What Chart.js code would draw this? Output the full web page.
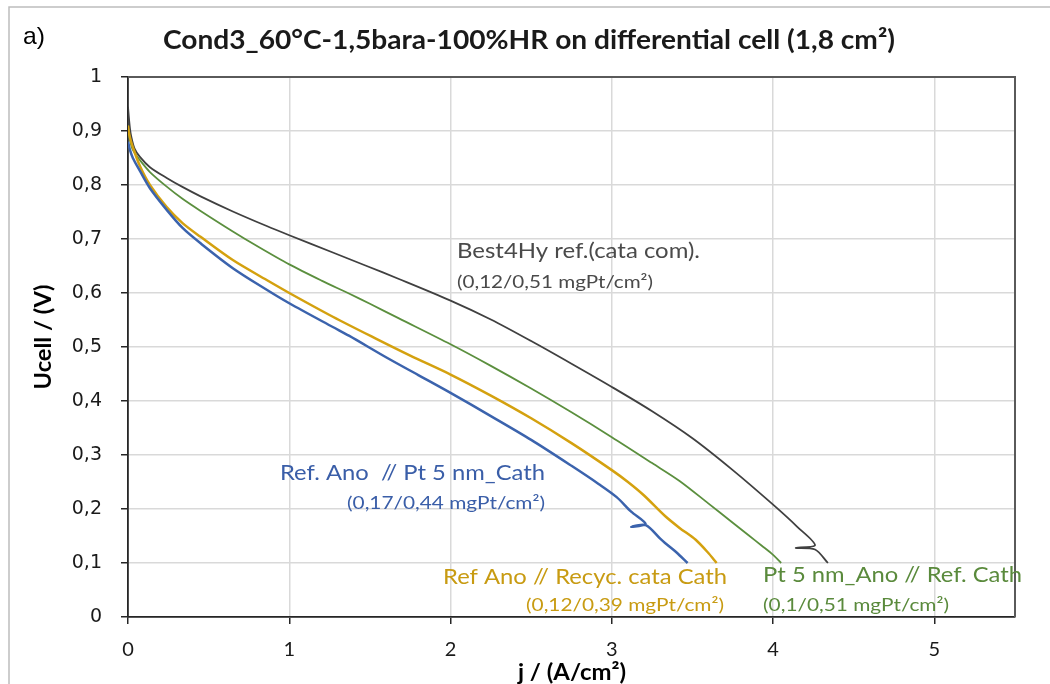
<!DOCTYPE html>
<html>
<head>
<meta charset="utf-8">
<script src="https://cdn.jsdelivr.net/npm/chart.js@4/dist/chart.umd.min.js"></script>
<style>
  html, body { margin: 0; padding: 0; background: #fff; }
  #wrap { position: relative; width: 1050px; height: 684px; }
  canvas { display: block; }
</style>
</head>
<body>
<div id="wrap"><canvas id="c" width="1050" height="684"></canvas></div>
<script>
// ---- Data ----
const titleText = "Cond3_60°C-1,5bara-100%HR on differential cell (1,8 cm²)";
const xTitle = "j / (A/cm²)";
const yTitle = "Ucell / (V)";
const xTickValues = [0, 1, 2, 3, 4, 5];

// Best4Hy ref. (cata com)
const jBest = [0, 0.004, 0.012, 0.02, 0.04, 0.074, 0.136, 0.24, 0.34, 0.45, 0.65, 0.86, 1.0, 1.27, 1.48, 1.68, 2.0, 2.25, 2.5, 2.75, 3.0, 3.25, 3.5, 3.75, 4.0, 4.15, 4.26, 4.14, 4.26, 4.34];
const uBest = [0.945, 0.93, 0.905, 0.89, 0.868, 0.852, 0.833, 0.813, 0.796, 0.779, 0.751, 0.724, 0.707, 0.675, 0.650, 0.626, 0.586, 0.551, 0.511, 0.469, 0.426, 0.381, 0.331, 0.272, 0.208, 0.167, 0.133, 0.128, 0.125, 0.10];

// Pt 5 nm_Ano // Ref. Cath
const jPtAno = [0, 0.004, 0.012, 0.03, 0.074, 0.136, 0.24, 0.34, 0.45, 0.65, 0.8, 1.0, 1.2, 1.37, 1.5, 1.68, 2.0, 2.25, 2.5, 2.75, 3.0, 3.25, 3.42, 3.6, 3.74, 3.85, 3.93, 4.0, 4.05];
const uPtAno = [0.91, 0.898, 0.883, 0.865, 0.846, 0.824, 0.797, 0.774, 0.752, 0.714, 0.687, 0.653, 0.623, 0.599, 0.580, 0.553, 0.505, 0.465, 0.423, 0.379, 0.333, 0.285, 0.252, 0.21, 0.177, 0.151, 0.132, 0.115, 0.10];

// Ref Ano // Recyc. cata Cath
const jRecyc = [0, 0.004, 0.012, 0.03, 0.074, 0.136, 0.24, 0.34, 0.45, 0.65, 0.86, 1.0, 1.27, 1.54, 1.75, 2.0, 2.25, 2.5, 2.75, 3.0, 3.1, 3.2, 3.33, 3.42, 3.52, 3.6, 3.65];
const uRecyc = [0.91, 0.9, 0.888, 0.87, 0.835, 0.80, 0.759, 0.729, 0.704, 0.661, 0.624, 0.60, 0.556, 0.515, 0.484, 0.449, 0.41, 0.368, 0.322, 0.272, 0.25, 0.225, 0.187, 0.165, 0.143, 0.118, 0.10];

// Ref. Ano // Pt 5 nm_Cath
const jPtCath = [0, 0.004, 0.012, 0.03, 0.074, 0.136, 0.24, 0.34, 0.45, 0.65, 0.86, 1.0, 1.27, 1.37, 1.6, 1.8, 2.0, 2.25, 2.5, 2.75, 2.92, 3.03, 3.12, 3.21, 3.12, 3.21, 3.3, 3.33, 3.4, 3.47];
const uPtCath = [0.88, 0.875, 0.865, 0.85, 0.826, 0.794, 0.754, 0.72, 0.692, 0.646, 0.606, 0.581, 0.537, 0.521, 0.481, 0.448, 0.415, 0.372, 0.328, 0.28, 0.246, 0.222, 0.195, 0.172, 0.167, 0.17, 0.145, 0.137, 0.12, 0.10];

// Annotations: [line1, line2]
const labelBest = ["Best4Hy ref.(cata com).", "(0,12/0,51 mgPt/cm²)"];
const labelPtCath = ["Ref. Ano  // Pt 5 nm_Cath", "(0,17/0,44 mgPt/cm²)"];
const labelRecyc = ["Ref Ano // Recyc. cata Cath", "(0,12/0,39 mgPt/cm²)"];
const labelPtAno = ["Pt 5 nm_Ano // Ref. Cath", "(0,1/0,51 mgPt/cm²)"];

// ---- Styles ----
const COL_BLACK = '#404040';
const COL_GREEN = '#5b8f3e';
const COL_GOLD = '#d4a10f';
const COL_BLUE = '#3b63ad';
const TXT_GRAY = '#4a4a4a';
const TXT_GREEN = '#5a8a3c';
const TXT_GOLD = '#c89b12';
const TXT_BLUE = '#3a5ea8';

function pts(xs, ys) { return xs.map((x, i) => ({ x: x, y: ys[i] })); }

// draw text stretched/compressed horizontally to span exactly width w
function fitText(ctx, text, x, y, w, font, color, align) {
  ctx.save();
  ctx.font = font;
  ctx.fillStyle = color;
  ctx.textBaseline = 'middle';
  ctx.textAlign = align || 'left';
  const m = ctx.measureText(text).width || 1;
  const sx = w / m;
  ctx.translate(x, y);
  ctx.scale(sx, 1);
  ctx.fillText(text, 0, 0);
  ctx.restore();
}

const overlay = {
  id: 'overlay',
  beforeDraw(chart) {
    const ctx = chart.ctx;
    ctx.save();
    ctx.fillStyle = '#fff';
    ctx.fillRect(0, 0, chart.width, chart.height);
    ctx.restore();
  },
  afterDraw(chart) {
    const ctx = chart.ctx;
    const a = chart.chartArea;
    // outer frame (top + left)
    ctx.save();
    ctx.strokeStyle = '#bdbdbd';
    ctx.lineWidth = 1.5;
    ctx.beginPath();
    ctx.moveTo(9, 684);
    ctx.lineTo(9, 7);
    ctx.lineTo(1050, 7);
    ctx.stroke();
    // plot top/right border
    ctx.strokeStyle = '#5a5a5a';
    ctx.lineWidth = 2;
    ctx.beginPath();
    ctx.moveTo(a.left, a.top);
    ctx.lineTo(a.right, a.top);
    ctx.lineTo(a.right, a.bottom);
    ctx.stroke();
    ctx.restore();

    // titles
    fitText(ctx, 'a)', 23, 37, 22, '24px "Liberation Sans", Arial, sans-serif', '#000', 'left');
    fitText(ctx, titleText, 529, 41, 732, 'bold 26px Lato, "Open Sans", sans-serif', '#1a1a1a', 'center');
    fitText(ctx, xTitle, 572, 673, 108, 'bold 23px Lato, "Open Sans", sans-serif', '#000', 'center');
    ctx.save();
    ctx.translate(44, 337);
    ctx.rotate(-Math.PI / 2);
    fitText(ctx, yTitle, 0, 0, 105, 'bold 23px Lato, "Open Sans", sans-serif', '#000', 'center');
    ctx.restore();

    // annotations
    const f1 = '21px Lato, "Open Sans", sans-serif';
    const f2 = '18px Lato, "Open Sans", sans-serif';
    fitText(ctx, labelBest[0], 457, 251, 243, f1, TXT_GRAY, 'left');
    fitText(ctx, labelBest[1], 457, 282, 196, f2, TXT_GRAY, 'left');
    fitText(ctx, labelPtCath[0], 545, 473, 265, f1, TXT_BLUE, 'right');
    fitText(ctx, labelPtCath[1], 545, 503, 198, f2, TXT_BLUE, 'right');
    fitText(ctx, labelRecyc[0], 727, 577, 284, f1, TXT_GOLD, 'right');
    fitText(ctx, labelRecyc[1], 724, 605, 198, f2, TXT_GOLD, 'right');
    fitText(ctx, labelPtAno[0], 763, 575, 259, f1, TXT_GREEN, 'left');
    fitText(ctx, labelPtAno[1], 763, 605, 186, f2, TXT_GREEN, 'left');
  }
};

const ds = (label, data, color, width) => ({
  label: label,
  data: data,
  borderColor: color,
  backgroundColor: color,
  borderWidth: width,
  pointRadius: 0,
  showLine: true,
  tension: 0.3,
  fill: false
});

new Chart(document.getElementById('c'), {
  type: 'scatter',
  data: {
    datasets: [
      ds(labelPtCath[0], pts(jPtCath, uPtCath), COL_BLUE, 2.5),
      ds(labelRecyc[0], pts(jRecyc, uRecyc), COL_GOLD, 2.5),
      ds(labelPtAno[0], pts(jPtAno, uPtAno), COL_GREEN, 1.8),
      ds(labelBest[0], pts(jBest, uBest), COL_BLACK, 1.8)
    ]
  },
  options: {
    responsive: false,
    animation: false,
    layout: { padding: { left: 0, top: 77, right: 35, bottom: 0 } },
    plugins: { legend: { display: false }, tooltip: { enabled: false }, title: { display: false } },
    scales: {
      x: {
        type: 'linear',
        min: 0, max: 5.5,
        afterBuildTicks(scale) { scale.ticks = xTickValues.map(v => ({ value: v })); },
        afterFit(scale) { scale.height = 67; },
        ticks: {
          stepSize: 1,
          padding: 14,
          color: '#1a1a1a',
          font: { family: 'Lato, "Open Sans", sans-serif', size: 20 },
          maxRotation: 0,
          callback: v => String(v)
        },
        grid: { color: '#d9d9d9', lineWidth: 1.5, tickLength: 7, tickColor: '#262626', tickWidth: 1.5 },
        border: { color: '#262626', width: 1.8 }
      },
      y: {
        type: 'linear',
        min: 0, max: 1,
        afterFit(scale) { scale.width = 128; },
        ticks: {
          stepSize: 0.1,
          padding: 19,
          color: '#1a1a1a',
          font: { family: '"DejaVu Sans", Verdana, sans-serif', size: 19 },
          callback: v => String(Math.round(v * 10) / 10).replace('.', ',')
        },
        grid: { color: '#d9d9d9', lineWidth: 1.5, tickLength: 7, tickColor: '#262626', tickWidth: 1.5 },
        border: { color: '#262626', width: 1.8 }
      }
    }
  },
  plugins: [overlay]
});
</script>
</body>
</html>
